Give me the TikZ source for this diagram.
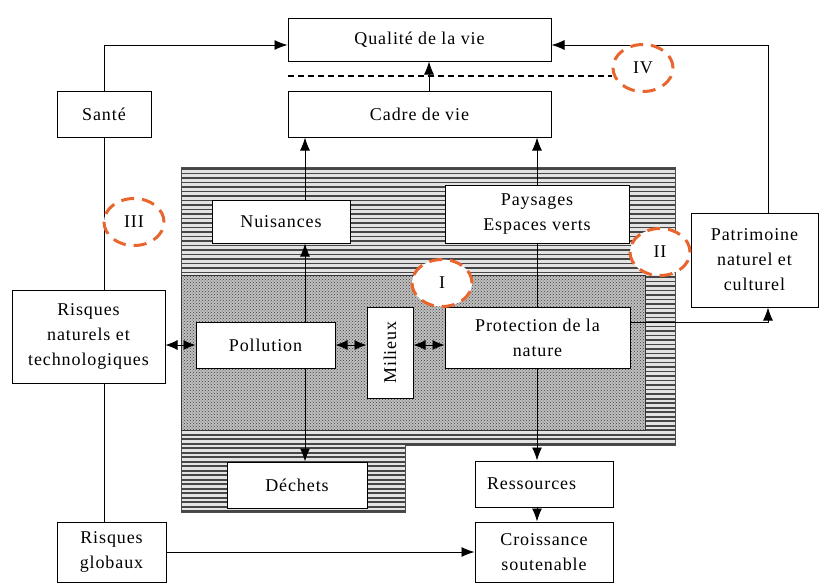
\documentclass[tikz,border=0pt]{standalone}
\usepackage{fontspec}
\setmainfont{Liberation Serif}[LetterSpace=5]
\usetikzlibrary{positioning,arrows.meta,patterns,shapes.geometric}
\definecolor{mark}{RGB}{232,102,46}
\pgfdeclarepatternformonly{hstripes}{\pgfqpoint{-1pt}{-1pt}}{\pgfqpoint{6pt}{6pt}}{\pgfqpoint{4.5pt}{4.5pt}}{%
  \pgfpathrectangle{\pgfqpoint{-1pt}{0pt}}{\pgfqpoint{7pt}{1.8pt}}\pgfusepath{fill}}
\begin{document}
\begin{tikzpicture}[x=1pt, y=-1pt,
     A/.style = {-{Latex[length=13pt,width=10pt]}},
    AA/.style = {{Latex[length=12pt,width=10pt]}-{Latex[length=12pt,width=10pt]}},
     B/.style = {draw, fill=white, line width=1pt, align=center, inner sep=0pt,
                 font=\fontsize{18}{25}\selectfont},
     C/.style = {ellipse, draw=mark, fill=white, line width=3pt, dash pattern=on 13pt off 8pt,
                 minimum width=60, minimum height=47, inner sep=0pt, font=\fontsize{18}{25}\selectfont},
     H/.style = {fill=gray!22, draw=gray!60!black, postaction={pattern=hstripes, pattern color=gray!55!black}},
     D/.style = {fill=gray!50, draw=gray!40!black, postaction={pattern=crosshatch dots, pattern color=black!75}},
every path/.style = {line width=0.9pt}
                    ]
\useasboundingbox (0,0) rectangle (824,584);
% shaded zones
\path[H] (181,167) -- (675,167) -- (675,445) -- (405,445) -- (405,512) -- (181,512) -- cycle;
\path[D] (181,275) rectangle (645,430);
% rows and columns of the connectors
\coordinate (rowT) at (0,45);
\coordinate (rowP) at (0,322);
\coordinate (colL) at (104,0);
\coordinate (colA) at (305,0);
\coordinate (colC) at (429,0);
\coordinate (colB) at (537,0);
\coordinate (colR) at (768,0);
\coordinate (dashL) at (288,76);
    \begin{scope}[nodes=B]
\node (qual)  at (419.5,39.5) [minimum width=263, minimum height=43] {Qualité de la vie};
\node (cadre) at (419.5,114)  [minimum width=263, minimum height=46] {Cadre de vie};
\node (sante) at (104,114)    [minimum width=94,  minimum height=46] {Santé};
\node (nuis)  at (281,221.5)  [minimum width=138, minimum height=43] {Nuisances};
\node (pays)  at (537,214)    [minimum width=184, minimum height=58] {Paysages\\Espaces verts};
\node (patr)  at (754.5,260)  [minimum width=127, minimum height=94] {Patrimoine\\naturel et\\culturel};
\node (risq)  at (88.5,336.5) [minimum width=153, minimum height=93] {Risques\\naturels et\\technologiques};
\node (poll)  at (265.5,345)  [minimum width=139, minimum height=46] {Pollution};
\node (mil)   at (390,352.5)  [minimum width=46,  minimum height=91] {\rotatebox{90}{Milieux}};
\node (prot)  at (537.5,337.5)[minimum width=185, minimum height=61] {Protection de la\\nature};
\node (dech)  at (297,485)    [minimum width=140, minimum height=46] {Déchets};
\node (ress)  at (544,484)    [minimum width=138, minimum height=46, text width=114, align=left] {Ressources};
\node (crois) at (544,552)    [minimum width=138, minimum height=60] {Croissance\\soutenable};
\node (glob)  at (111.5,552)  [minimum width=109, minimum height=60] {Risques\\globaux};
    \end{scope}
\draw[A] (sante.north) |- (qual.west |- rowT);
\draw[A] (patr.north -| colR) |- (qual.east |- rowT);
\draw[A] (cadre.north -| colC) -- (qual.south -| colC);
\draw[A] (nuis.north -| colA) -- (cadre.south -| colA);
\draw[A] (pays.north -| colB) -- (cadre.south -| colB);
\draw[A] (poll.north -| colA) -- (nuis.south -| colA);
\draw[A] (poll.south -| colA) -- (dech.north -| colA);
\draw    (pays.south -| colB) -- (prot.north -| colB);
\draw[A] (prot.south -| colB) -- (ress.north -| colB);
\draw[A] (ress.south -| colB) -- (crois.north -| colB);
\draw    (sante.south) -- (risq.north -| colL);
\draw    (risq.south -| colL) -- (glob.north -| colL);
\draw[A] (glob.east) -- (crois.west);
\draw[A] (prot.east |- rowP) -| (patr.south -| colR);
\draw[AA] (risq.east |- poll.west) -- (poll.west);
\draw[AA] (poll.east) -- (mil.west |- poll.east);
\draw[AA] (mil.east |- poll.east) -- (prot.west |- poll.east);
% numbered marks
\node[C] (iv)  at (643,68)  {IV};
\node[C] (ii)  at (660,252) {II};
\node[C] (i)   at (442,283) {I};
\node[C] (iii) at (134,222) {III};
\draw[dash pattern=on 6pt off 4pt, line width=1.3pt] (dashL) -- (dashL -| iv.west);
\end{tikzpicture}
\end{document}
